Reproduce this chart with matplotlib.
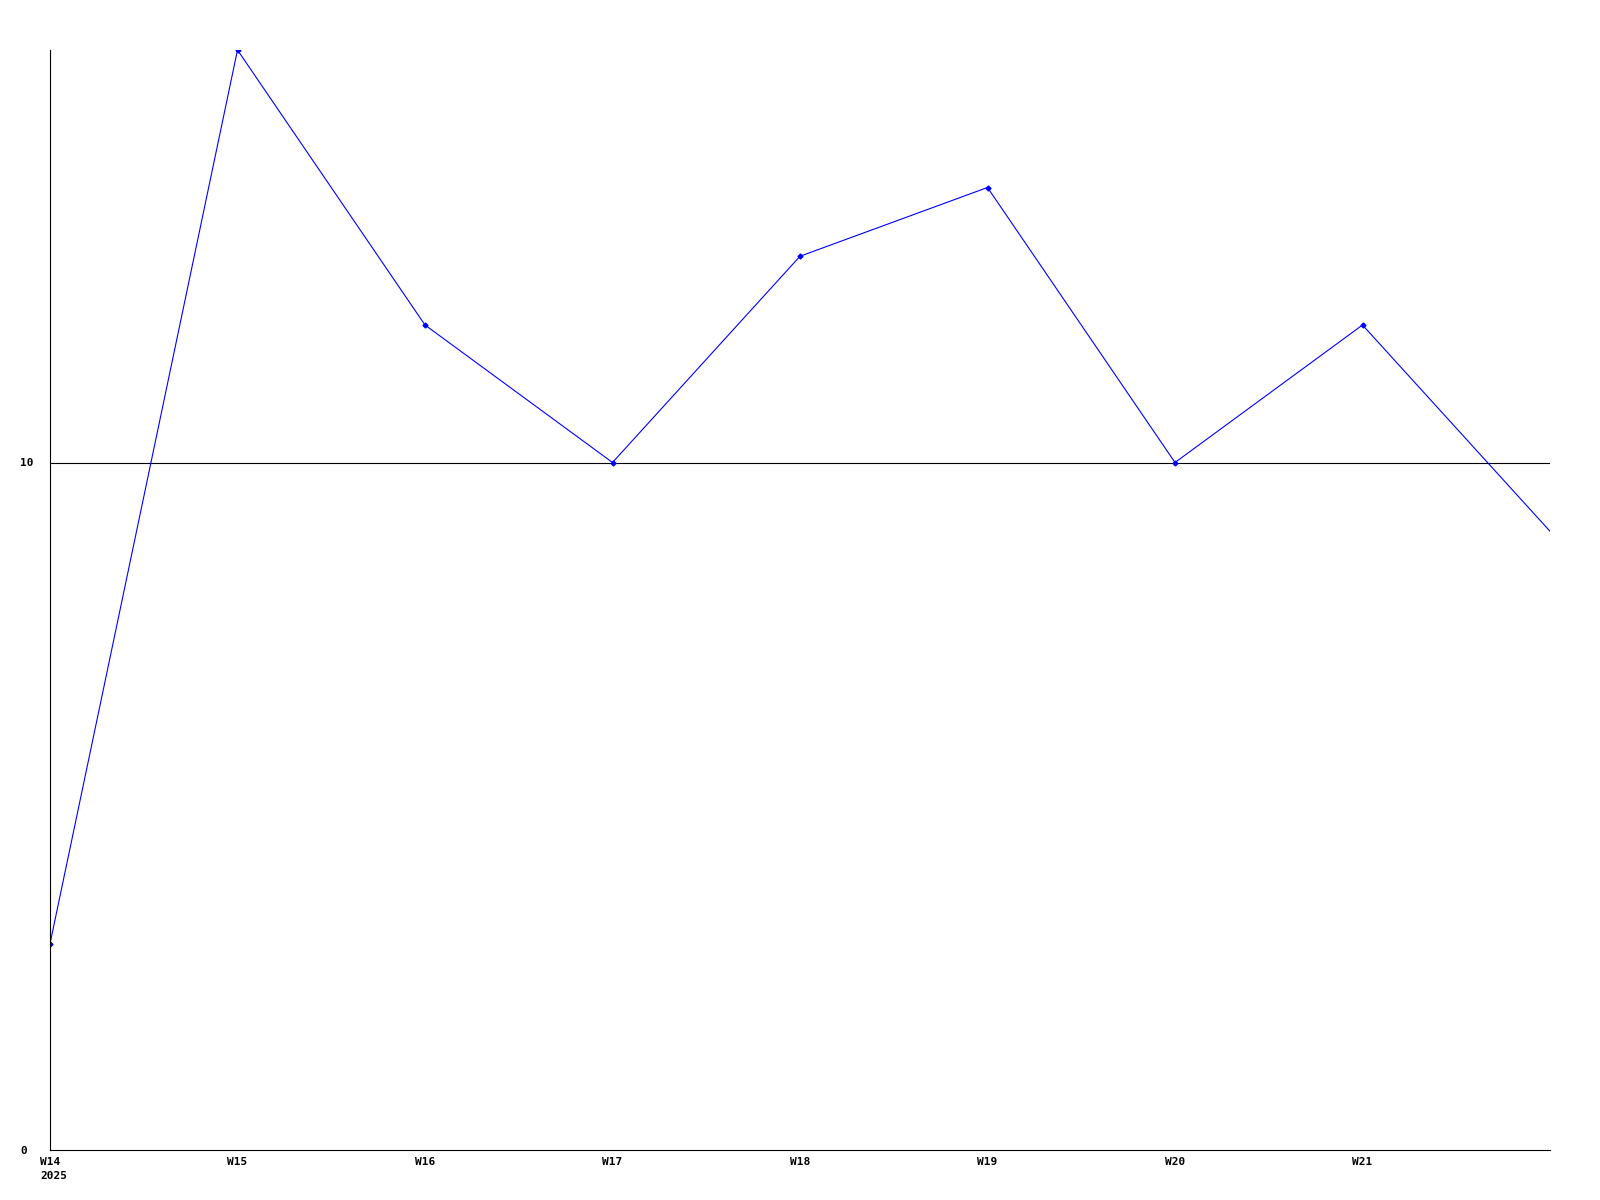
import matplotlib
matplotlib.use("Agg")
import matplotlib.pyplot as plt

# ==== データ ====
weeks = ["W14", "W15", "W16", "W17", "W18", "W19", "W20", "W21", "W22"]
values = [3, 16, 12, 10, 13, 14, 10, 12, 9]
year_label = "2025"
y_ticks = [0, 10]

# ==== 描画 ====
fig = plt.figure(figsize=(16, 12), dpi=100)
ax = fig.add_axes([50 / 1600, 50 / 1200, 1500 / 1600, 1100 / 1200])

x = list(range(len(weeks)))
ax.plot(x, values, color="#0000ff", linewidth=0.8, marker="D", markersize=2.5,
        markevery=list(range(len(weeks) - 1)), clip_on=True)

ax.set_xlim(0, len(weeks) - 1)
ax.set_ylim(0, 16)

font = dict(fontfamily="DejaVu Sans Mono", fontweight="bold", fontsize=8)
ax.set_xticks(x[:-1])
ax.set_xticklabels(weeks[:-1], **font)
ax.set_yticks(y_ticks)
ax.set_yticklabels([str(v) for v in y_ticks], ha="left", **font)

ax.tick_params(axis="x", length=0, pad=5)
ax.tick_params(axis="y", length=0, pad=21.6)

# 年ラベル（W14 の下、左揃え）
ax.annotate(year_label, xy=(0, 0), xycoords=("data", "axes fraction"),
            xytext=(-7.2, -18.5), textcoords="offset points",
            ha="left", va="center", **font)

# 10 の水平線
ax.axhline(10, color="black", linewidth=0.8, zorder=1)

for side in ["top", "right"]:
    ax.spines[side].set_visible(False)
for side in ["left", "bottom"]:
    ax.spines[side].set_color("black")
    ax.spines[side].set_linewidth(0.8)

fig.savefig("out.png", dpi=100)
